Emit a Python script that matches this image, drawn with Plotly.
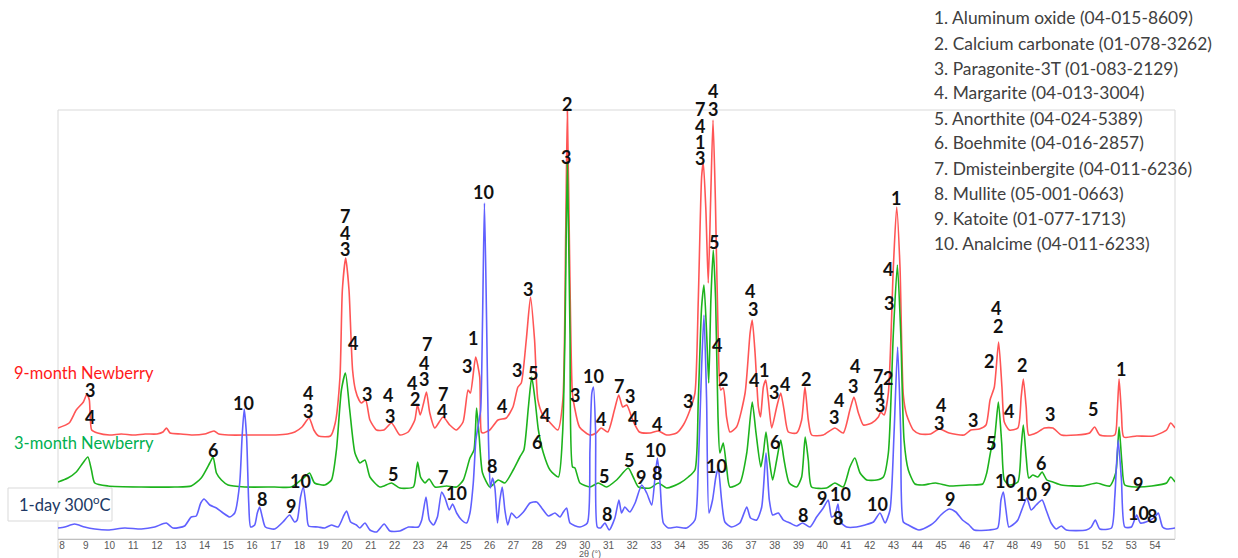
import plotly.graph_objects as go

# ---------------- data (2θ in degrees, stacked intensity in a.u.) ----------------
red_x = [7.83, 8.30, 8.60, 8.90, 9.05, 9.15, 9.25, 9.50, 10.00, 10.50, 11.00, 11.50, 12.00, 12.25, 12.40,
         12.55, 13.00, 13.50, 14.00, 14.40, 14.60, 15.00, 16.00, 17.00, 17.50, 17.80, 18.10, 18.40, 18.60,
         18.80, 19.30, 19.50, 19.70, 19.80, 19.94, 20.08, 20.16, 20.23, 20.35, 20.50, 20.60, 20.78, 20.96,
         21.24, 21.55, 21.87, 22.22, 22.57, 22.85, 22.96, 23.08, 23.22, 23.34, 23.48, 23.69, 24.04, 24.32,
         24.60, 24.88, 25.09, 25.19, 25.41, 25.58, 25.65, 25.72, 26.00, 26.35, 26.70, 26.98, 27.19, 27.33,
         27.54, 27.72, 27.89, 28.03, 28.24, 28.52, 28.87, 29.08, 29.20, 29.27, 29.36, 29.48, 29.57, 29.78,
         30.20, 30.48, 30.69, 30.97, 31.25, 31.43, 31.60, 31.77, 32.02, 32.30, 32.75, 33.10, 33.45, 33.87,
         34.15, 34.43, 34.64, 34.78, 34.92, 34.99, 35.10, 35.20, 35.30, 35.40, 35.50, 35.62, 35.72, 35.83,
         35.97, 36.11, 36.39, 36.75, 36.96, 37.05, 37.17, 37.31, 37.40, 37.52, 37.62, 37.73, 37.87, 38.08,
         38.25, 38.39, 38.57, 38.92, 39.13, 39.27, 39.41, 39.55, 40.04, 40.53, 40.88, 41.16, 41.33, 41.52,
         41.73, 42.08, 42.36, 42.46, 42.60, 42.78, 42.99, 43.13, 43.27, 43.41, 43.55, 43.83, 44.11, 44.56,
         44.92, 45.34, 45.97, 46.25, 46.61, 46.89, 47.06, 47.24, 47.42, 47.56, 47.66, 47.87, 48.23, 48.37,
         48.46, 48.58, 48.69, 49.00, 49.35, 49.70, 50.06, 50.69, 51.25, 51.46, 51.68, 52.31, 52.41, 52.49,
         52.59, 52.69, 53.23, 53.93, 54.49, 54.66, 54.85]
red_y = [111, 116, 129, 137, 145, 139, 109, 106, 104, 105, 104, 105, 105, 107, 111,
         106, 105, 104, 105, 108, 105, 104, 104, 104, 105, 107, 112, 121, 109,
         103, 103, 116, 162, 249, 281, 249, 204, 169, 149, 139, 136, 139, 119,
         109, 109, 116, 104, 107, 119, 134, 124, 136, 147, 126, 111, 122, 114,
         109, 117, 149, 146, 182, 162, 107, 106, 109, 119, 121, 132, 152, 156,
         199, 242, 199, 139, 124, 117, 109, 139, 306, 429, 289, 146, 132, 112,
         104, 106, 111, 107, 129, 144, 132, 134, 119, 107, 106, 108, 104, 106,
         114, 129, 146, 239, 362, 377, 329, 256, 339, 419, 339, 199, 149, 151,
         122, 107, 112, 146, 206, 219, 186, 132, 122, 152, 159, 139, 111, 132,
         146, 129, 107, 106, 119, 152, 119, 104, 104, 111, 106, 129, 142, 126,
         114, 116, 122, 127, 124, 146, 272, 332, 272, 144, 124, 109, 105, 105,
         110, 106, 104, 109, 110, 114, 139, 152, 197, 152, 117, 109, 111, 142,
         160, 132, 104, 106, 111, 111, 104, 104, 106, 112, 104, 104, 126, 160,
         126, 102, 103, 103, 109, 116, 111]

green_x = [7.83, 8.25, 8.60, 8.88, 9.09, 9.24, 9.38, 9.94, 11.34, 12.74, 13.44, 13.86, 14.22, 14.36, 14.50,
           14.71, 14.99, 15.69, 16.95, 17.65, 18.21, 18.42, 18.63, 19.06, 19.34, 19.55, 19.76, 19.93, 20.11,
           20.33, 20.54, 20.75, 20.96, 21.38, 21.87, 22.22, 22.79, 22.90, 22.97, 23.09, 23.28, 23.45, 23.70,
           24.19, 24.61, 24.89, 25.17, 25.34, 25.45, 25.56, 25.70, 26.01, 26.36, 26.64, 26.99, 27.27, 27.44,
           27.63, 27.77, 27.91, 28.05, 28.26, 28.54, 28.89, 29.07, 29.17, 29.27, 29.38, 29.49, 29.59, 29.80,
           30.22, 30.57, 30.92, 31.34, 31.83, 32.04, 32.26, 32.75, 33.10, 33.45, 34.01, 34.36, 34.64, 34.78,
           34.92, 35.02, 35.13, 35.22, 35.31, 35.41, 35.51, 35.61, 35.69, 35.83, 35.97, 36.11, 36.53, 36.82,
           37.05, 37.21, 37.41, 37.52, 37.63, 37.77, 37.91, 38.08, 38.25, 38.39, 38.61, 38.92, 39.13, 39.28,
           39.41, 39.55, 40.18, 40.53, 40.88, 41.16, 41.37, 41.59, 41.87, 42.29, 42.57, 42.78, 42.99, 43.16,
           43.30, 43.44, 43.62, 43.90, 44.21, 44.77, 45.34, 46.18, 46.75, 46.92, 47.10, 47.24, 47.41, 47.55,
           47.66, 47.87, 48.23, 48.37, 48.46, 48.58, 48.69, 48.86, 49.07, 49.25, 49.45, 49.70, 50.06, 50.97,
           51.54, 52.10, 52.35, 52.49, 52.61, 52.73, 53.23, 53.86, 54.49, 54.66, 54.85]
green_y = [57, 61, 67, 76, 82, 69, 56, 53, 52, 52, 53, 61, 76, 82, 66,
           59, 54, 52, 52, 52, 62, 66, 56, 54, 59, 89, 149, 166, 129,
           86, 76, 79, 62, 52, 56, 51, 52, 66, 77, 62, 56, 60, 52,
           53, 52, 59, 81, 89, 131, 102, 66, 52, 59, 56, 69, 82, 89,
           132, 162, 139, 109, 86, 69, 62, 106, 206, 377, 206, 72, 71, 56,
           52, 56, 52, 59, 71, 62, 52, 51, 56, 51, 56, 62, 69, 139,
           232, 254, 206, 156, 239, 289, 239, 122, 86, 96, 72, 52, 56, 86,
           137, 106, 72, 86, 107, 79, 59, 79, 99, 79, 56, 52, 62, 102,
           79, 52, 51, 56, 52, 72, 81, 66, 59, 59, 62, 86, 206, 274,
           206, 99, 69, 55, 54, 56, 53, 54, 55, 66, 89, 99, 137, 96,
           59, 54, 57, 92, 114, 82, 61, 64, 62, 67, 59, 57, 54, 53,
           56, 53, 66, 112, 76, 54, 52, 53, 56, 62, 57]

blue_x = [7.83, 8.11, 8.53, 8.95, 9.38, 9.94, 10.64, 11.34, 11.90, 12.39, 12.67, 13.16, 13.44, 13.65, 13.84,
          13.98, 14.22, 14.50, 14.78, 15.06, 15.27, 15.48, 15.58, 15.67, 15.77, 15.86, 15.94, 16.11, 16.22,
          16.32, 16.43, 16.56, 16.95, 17.30, 17.58, 17.79, 17.90, 18.04, 18.16, 18.29, 18.38, 18.78, 19.06,
          19.34, 19.62, 19.87, 19.98, 20.15, 20.39, 20.54, 20.75, 20.96, 21.24, 21.56, 21.80, 22.22, 22.58,
          23.00, 23.14, 23.32, 23.46, 23.63, 23.80, 23.98, 24.12, 24.30, 24.44, 24.61, 24.82, 25.03, 25.17,
          25.31, 25.42, 25.52, 25.62, 25.70, 25.78, 25.87, 25.95, 26.03, 26.12, 26.22, 26.33, 26.43, 26.53,
          26.64, 26.76, 26.92, 27.13, 27.42, 27.70, 27.98, 28.19, 28.47, 28.75, 28.96, 29.10, 29.24, 29.38,
          29.80, 30.11, 30.22, 30.30, 30.37, 30.46, 30.53, 30.67, 30.85, 31.03, 31.27, 31.44, 31.55, 31.69,
          31.90, 32.12, 32.40, 32.61, 32.82, 32.96, 33.06, 33.17, 33.31, 33.52, 33.87, 34.29, 34.64, 34.78,
          34.92, 35.02, 35.13, 35.23, 35.38, 35.52, 35.62, 35.76, 35.90, 36.18, 36.53, 36.82, 36.98, 37.24,
          37.45, 37.63, 37.77, 37.91, 38.15, 38.36, 38.64, 38.92, 39.17, 39.48, 39.76, 40.04, 40.25, 40.39,
          40.53, 40.66, 40.77, 41.02, 41.44, 41.80, 42.15, 42.43, 42.64, 42.85, 43.02, 43.17, 43.30, 43.41,
          43.62, 44.07, 44.56, 44.77, 44.99, 45.34, 45.62, 45.90, 46.18, 46.39, 47.03, 47.38, 47.52, 47.62,
          47.73, 47.85, 48.01, 48.23, 48.44, 48.61, 48.79, 49.00, 49.25, 49.42, 49.63, 49.85, 50.06, 50.27,
          51.11, 51.32, 51.49, 51.68, 52.17, 52.31, 52.45, 52.59, 52.73, 53.01, 53.23, 53.39, 53.72, 54.00,
          54.14, 54.32, 54.49, 54.85]
blue_y = [11, 12, 15, 12, 10, 9, 11, 10, 12, 16, 11, 13, 22, 23, 36,
          40, 34, 31, 26, 22, 26, 56, 102, 130, 102, 36, 12, 14, 26,
          32, 22, 12, 10, 17, 24, 17, 19, 42, 52, 29, 13, 12, 11,
          14, 12, 24, 28, 17, 14, 11, 16, 9, 7, 15, 8, 8, 12,
          12, 19, 42, 19, 14, 22, 47, 41, 29, 35, 26, 19, 16, 26,
          56, 99, 114, 129, 219, 336, 219, 99, 51, 61, 51, 16, 39, 52,
          29, 14, 26, 21, 27, 36, 37, 31, 23, 26, 22, 27, 31, 16,
          12, 16, 89, 146, 152, 106, 12, 11, 16, 9, 21, 39, 26, 32,
          27, 36, 54, 46, 34, 62, 81, 56, 16, 11, 12, 11, 19, 72,
          172, 224, 139, 26, 39, 62, 71, 39, 17, 12, 16, 32, 21, 19,
          32, 86, 39, 24, 26, 19, 16, 13, 16, 12, 22, 31, 39, 22,
          24, 35, 17, 12, 12, 14, 17, 26, 16, 29, 106, 192, 106, 17,
          14, 9, 14, 18, 24, 30, 27, 19, 14, 9, 9, 11, 39, 47,
          29, 12, 14, 19, 32, 41, 29, 34, 39, 29, 16, 10, 13, 9,
          9, 12, 19, 10, 11, 42, 99, 59, 12, 12, 24, 16, 18, 22,
          26, 12, 10, 11]

series_names = ["9-month Newberry", "3-month Newberry", "1-day 300<sup>o</sup>C"]

phases = ["1. Aluminum oxide (04-015-8609)", "2. Calcium carbonate (01-078-3262)",
          "3. Paragonite-3T (01-083-2129)", "4. Margarite (04-013-3004)",
          "5. Anorthite (04-024-5389)", "6. Boehmite (04-016-2857)",
          "7. Dmisteinbergite (04-011-6236)", "8. Mullite (05-001-0663)",
          "9. Katoite (01-077-1713)", "10. Analcime (04-011-6233)"]

tick_vals = list(range(8, 55))

# peak identification labels: (2θ, intensity, phase number)
peak_labels = [
    (9.18, 150, "3"), (9.18, 123, "4"), (18.35, 147, "4"), (18.35, 129, "3"),
    (19.91, 324, "7"), (19.91, 307, "4"), (19.91, 291, "3"), (20.25, 197, "4"),
    (20.84, 146, "3"), (21.72, 145, "4"), (21.80, 124, "3"), (22.73, 157, "4"), (22.86, 141, "2"),
    (23.36, 196, "7"), (23.24, 177, "4"), (23.24, 161, "3"), (24.04, 146, "7"), (23.99, 129, "4"),
    (25.30, 202, "1"), (25.05, 174, "3"), (27.15, 170, "3"), (26.52, 134, "4"), (27.61, 251, "3"),
    (28.33, 125, "4"), (29.25, 436, "2"), (29.59, 145, "3"), (30.69, 121, "4"),
    (31.44, 154, "7"), (31.91, 144, "3"), (32.03, 122, "4"), (33.04, 116, "4"), (34.35, 139, "3"),
    (34.85, 431, "7"), (34.85, 414, "4"), (34.85, 398, "1"), (34.85, 382, "3"),
    (35.40, 449, "4"), (35.40, 431, "3"), (35.82, 161, "2"),
    (36.96, 249, "4"), (37.08, 231, "3"), (37.55, 170, "1"), (37.97, 148, "3"), (38.43, 156, "4"),
    (39.31, 161, "2"), (40.70, 140, "4"), (40.49, 123, "3"), (41.38, 174, "4"), (41.29, 154, "3"),
    (42.34, 164, "7"), (42.76, 162, "2"), (42.39, 149, "4"), (42.43, 135, "3"), (43.10, 342, "1"),
    (45.00, 135, "4"), (44.91, 117, "3"), (46.34, 120, "3"), (47.02, 179, "2"),
    (47.31, 232, "4"), (47.39, 214, "2"), (48.40, 175, "2"), (49.58, 126, "3"),
    (51.39, 131, "5"), (52.57, 171, "1"),
    (14.36, 90, "6"), (21.93, 66, "5"), (24.04, 63, "7"), (27.82, 167, "5"), (27.99, 98, "6"),
    (29.21, 383, "3"), (30.81, 64, "5"), (31.86, 80, "5"), (35.44, 298, "5"), (35.57, 195, "4"),
    (37.12, 160, "4"), (38.01, 98, "6"), (42.76, 271, "4"), (42.81, 237, "3"), (47.10, 97, "5"),
    (47.86, 129, "4"), (49.20, 77, "6"), (53.29, 56, "9"),
    (15.66, 137, "10"), (18.02, 59, "10"), (16.42, 41, "8"), (17.64, 34, "9"), (24.62, 47, "10"),
    (25.72, 348, "10"), (26.10, 74, "8"), (30.39, 164, "10"), (30.94, 26, "8"), (32.37, 63, "9"),
    (33.00, 90, "10"), (33.04, 67, "8"), (35.53, 74, "10"), (39.19, 25, "8"), (39.99, 42, "9"),
    (40.75, 46, "10"), (40.66, 22, "8"), (42.34, 36, "10"), (45.37, 41, "9"), (47.69, 59, "10"),
    (48.61, 46, "10"), (49.41, 51, "9"), (53.29, 27, "10"), (53.88, 24, "8"),
]

# ---------------- figure ----------------
W, H = 1238, 558
L, R, T, B = 58, 1175, 110, 539
Y_MAX = 429


def px(xp):
    return (xp - L) / (R - L)


def py(yp):
    return (B - yp) / (B - T)


fig = go.Figure()
for xs, ys, col in [(red_x, red_y, "#FF5555"), (green_x, green_y, "#1DB31D"), (blue_x, blue_y, "#6060FF")]:
    fig.add_trace(go.Scatter(x=xs, y=ys, mode="lines",
                             line=dict(color=col, width=1.6, shape="spline", smoothing=0.6),
                             showlegend=False, hoverinfo="skip"))

ann = []
for x, y, t in peak_labels:
    ann.append(dict(x=x, y=y / Y_MAX, xref="x", yref="paper", text=t, showarrow=False,
                    xanchor="center", yanchor="middle", yshift=-1,
                    font=dict(family="Lato", size=18, color="#111111", weight="bold")))

for i, t in enumerate(phases):
    ann.append(dict(x=px(932), y=py(18 + 25 * i), xref="paper", yref="paper", text=t,
                    showarrow=False, xanchor="left", yanchor="middle",
                    font=dict(family="Lato", size=17.4, color="#404040")))

for name, ypix, xpix, col in [(series_names[0], 373, 12, "#FF1A1A"),
                              (series_names[1], 443, 12, "#00B050"),
                              (series_names[2], 504, 17, "#203864")]:
    ann.append(dict(x=px(xpix), y=py(ypix), xref="paper", yref="paper", text=name,
                    showarrow=False, xanchor="left", yanchor="middle",
                    font=dict(family="Lato", size=16.5, color=col)))

ann.append(dict(x=px(590), y=py(554), xref="paper", yref="paper", text="2θ (°)",
                showarrow=False, xanchor="center", yanchor="middle",
                font=dict(family="Liberation Sans", size=9, color="#595959")))

shapes = [
    dict(type="rect", xref="paper", yref="paper", x0=0, x1=1, y0=0, y1=1,
         line=dict(color="#D9D9D9", width=1), layer="below"),
    dict(type="line", xref="paper", yref="paper", x0=0, x1=0, y0=py(558), y1=0,
         line=dict(color="#D9D9D9", width=1), layer="below"),
    dict(type="rect", xref="paper", yref="paper", x0=px(8), x1=px(112), y0=py(521), y1=py(488),
         fillcolor="white", line=dict(color="#D9D9D9", width=1), layer="below"),
]

fig.update_layout(
    width=W, height=H,
    margin=dict(l=L, r=W - R, t=T, b=H - B, autoexpand=False),
    paper_bgcolor="white", plot_bgcolor="white",
    annotations=ann, shapes=shapes,
    xaxis=dict(range=[7.832, 54.844], tickmode="array", tickvals=tick_vals, automargin=False,
               showgrid=False, zeroline=False, showline=True, linecolor="#BFBFBF", linewidth=1,
               ticks="", ticklabelstandoff=-3,
               tickfont=dict(family="Liberation Sans", size=10, color="#595959")),
    yaxis=dict(range=[0, Y_MAX], visible=False, showgrid=False, zeroline=False, automargin=False),
)

fig.write_html("out.html")
